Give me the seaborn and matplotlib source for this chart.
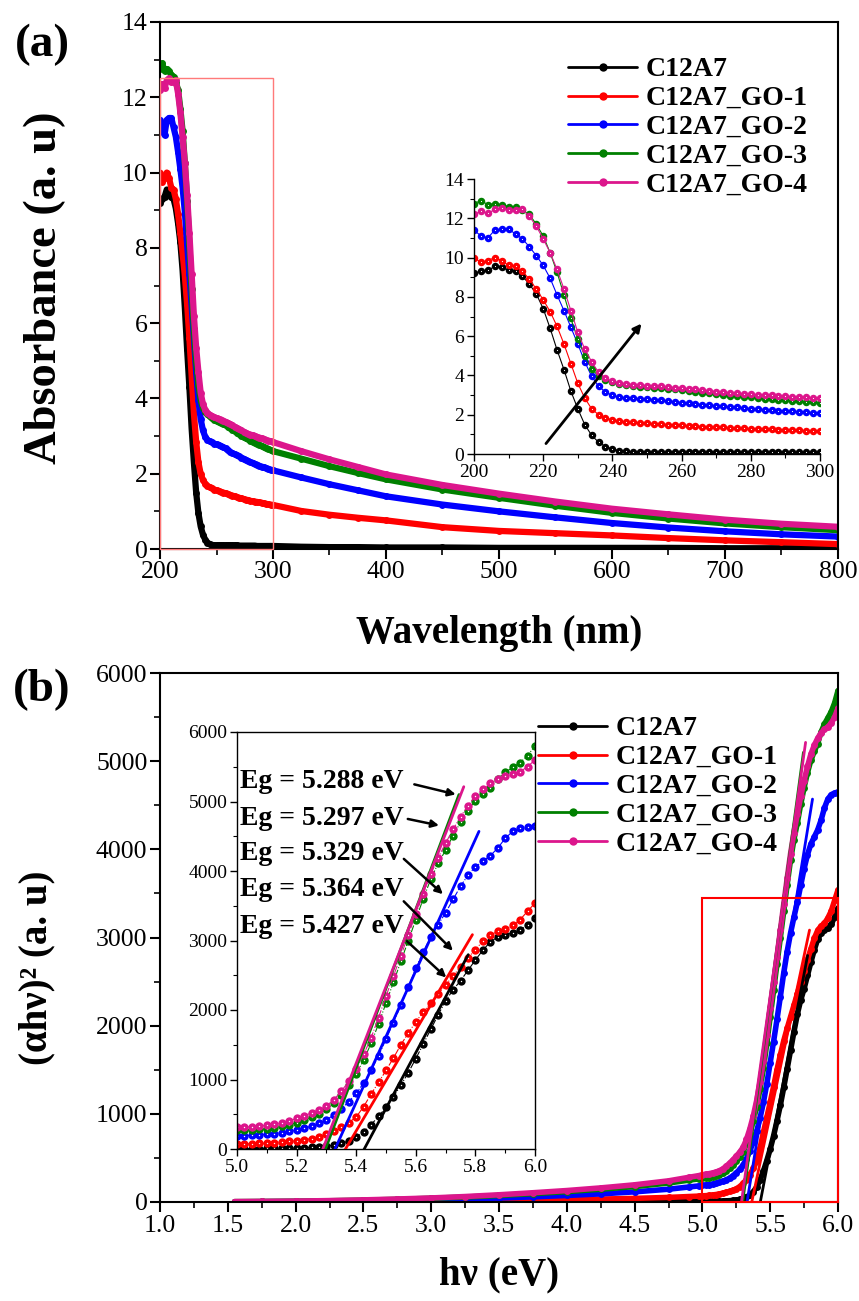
import numpy as np
import pandas as pd
import matplotlib
matplotlib.use("Agg")
import matplotlib.pyplot as plt
import seaborn as sns
from matplotlib.patches import Rectangle
from matplotlib.lines import Line2D
from matplotlib.ticker import MultipleLocator, FormatStrFormatter

# ---------------- data ----------------
samples = ["C12A7", "C12A7_GO-1", "C12A7_GO-2", "C12A7_GO-3", "C12A7_GO-4"]
colors = ["#000000", "#ff0000", "#0000ff", "#008000", "#dc168c"]

wavelength = list(range(200, 301, 2)) + [325, 350, 375, 400, 450, 500, 550, 600, 650, 700, 750, 800]

abs_c12a7 = [9.20, 9.30, 9.35, 9.55, 9.50, 9.35, 9.30, 9.05, 8.65, 8.15,
             7.40, 6.40, 5.30, 4.30, 3.20, 2.30, 1.50, 0.95, 0.60, 0.38,
             0.25, 0.17, 0.13, 0.11, 0.10, 0.10, 0.10, 0.10, 0.10, 0.10,
             0.10, 0.10, 0.10, 0.10, 0.10, 0.09, 0.09, 0.09, 0.09, 0.09,
             0.09, 0.09, 0.09, 0.08, 0.08, 0.08, 0.08, 0.08, 0.08, 0.08,
             0.08,
             0.06, 0.05, 0.05, 0.04, 0.04, 0.03, 0.03, 0.03, 0.03, 0.02, 0.02, 0.02]
abs_go1 = [10.00, 9.75, 9.85, 10.00, 9.85, 9.60, 9.55, 9.30, 8.90, 8.40,
           7.85, 7.25, 6.50, 5.60, 4.60, 3.60, 2.85, 2.30, 2.00, 1.83,
           1.74, 1.68, 1.64, 1.61, 1.58, 1.56, 1.54, 1.52, 1.50, 1.48,
           1.46, 1.44, 1.42, 1.40, 1.38, 1.36, 1.35, 1.33, 1.31, 1.30,
           1.28, 1.27, 1.26, 1.25, 1.24, 1.23, 1.21, 1.20, 1.19, 1.18,
           1.17,
           1.01, 0.91, 0.83, 0.76, 0.58, 0.48, 0.42, 0.36, 0.29, 0.23, 0.18, 0.13]
abs_go2 = [11.40, 11.10, 11.00, 11.40, 11.45, 11.45, 11.20, 10.95, 10.55, 10.10,
           9.60, 8.95, 8.10, 7.30, 6.45, 5.60, 4.70, 3.95, 3.45, 3.15,
           2.98, 2.90, 2.86, 2.83, 2.80, 2.78, 2.76, 2.73, 2.70, 2.67,
           2.62, 2.58, 2.55, 2.52, 2.49, 2.46, 2.43, 2.40, 2.37, 2.34,
           2.31, 2.29, 2.26, 2.24, 2.21, 2.19, 2.17, 2.15, 2.13, 2.11,
           2.09,
           1.90, 1.72, 1.56, 1.40, 1.18, 1.00, 0.84, 0.69, 0.57, 0.47, 0.39, 0.33]
abs_go3 = [12.75, 12.90, 12.70, 12.75, 12.70, 12.60, 12.55, 12.40, 12.20, 11.70,
           11.10, 10.25, 9.25, 8.10, 6.90, 5.85, 5.00, 4.35, 3.95, 3.75,
           3.65, 3.58, 3.52, 3.47, 3.43, 3.40, 3.38, 3.35, 3.32, 3.29,
           3.25, 3.21, 3.17, 3.13, 3.09, 3.05, 3.01, 2.97, 2.94, 2.91,
           2.88, 2.85, 2.82, 2.80, 2.77, 2.74, 2.71, 2.68, 2.66, 2.63,
           2.60,
           2.40, 2.20, 2.02, 1.85, 1.58, 1.36, 1.15, 0.96, 0.81, 0.68, 0.58, 0.50]
abs_go4 = [12.20, 12.35, 12.25, 12.45, 12.50, 12.40, 12.40, 12.45, 12.10, 11.60,
           10.95, 10.25, 9.40, 8.40, 7.30, 6.20, 5.35, 4.70, 4.15, 3.85,
           3.70, 3.62, 3.57, 3.53, 3.50, 3.48, 3.46, 3.44, 3.41, 3.38,
           3.35, 3.32, 3.29, 3.25, 3.22, 3.18, 3.15, 3.12, 3.09, 3.06,
           3.04, 3.02, 3.00, 2.98, 2.96, 2.94, 2.92, 2.90, 2.88, 2.86,
           2.84,
           2.60, 2.38, 2.18, 1.98, 1.70, 1.47, 1.26, 1.07, 0.92, 0.78, 0.67, 0.59]

energy = [1.55, 1.75, 2.0, 2.25, 2.5, 2.75, 3.0, 3.25, 3.5, 3.75, 4.0, 4.25, 4.5, 4.75, 4.9, 4.975] + \
         [round(5.0 + 0.025 * i, 3) for i in range(41)]

tauc_c12a7 = [0, 0, 0, 1, 1, 1, 1, 2, 2, 2, 3, 3, 3, 4, 4, 5] + \
    [5, 5, 6, 7, 8, 9, 11, 13, 15, 18, 22, 30, 40, 57, 80, 115, 170, 250, 350, 470,
     600, 750, 920, 1100, 1300, 1510, 1720, 1930, 2130, 2290, 2420, 2570, 2720, 2860, 2980,
     3050, 3080, 3110, 3150, 3230, 3330]
tauc_go1 = [1, 1, 2, 3, 4, 6, 8, 11, 15, 20, 26, 33, 41, 52, 62, 67] + \
    [70, 72, 75, 80, 85, 92, 100, 110, 120, 133, 150, 175, 210, 255, 310, 380, 460, 610, 790, 960,
     1130, 1310, 1500, 1670, 1830, 1970, 2100, 2230, 2360, 2490, 2620, 2750, 2870, 2990, 3080,
     3130, 3160, 3220, 3300, 3420, 3540]
tauc_go2 = [2, 3, 5, 8, 12, 17, 24, 33, 45, 58, 74, 92, 115, 145, 170, 183] + \
    [190, 193, 197, 203, 210, 222, 236, 252, 270, 298, 330, 370, 420, 490, 580, 680, 800, 950, 1130, 1340,
     1580, 1820, 2070, 2330, 2600, 2840, 3050, 3230, 3400, 3590, 3780, 3940, 4060, 4140, 4220,
     4330, 4470, 4570, 4620, 4640, 4650]
tauc_go3 = [4, 6, 9, 14, 21, 30, 42, 56, 74, 95, 118, 145, 175, 215, 248, 262] + \
    [270, 273, 277, 283, 290, 305, 325, 350, 380, 418, 460, 510, 570, 660, 780, 920, 1080, 1280, 1520, 1800,
     2100, 2400, 2700, 3000, 3300, 3600, 3880, 4110, 4300, 4510, 4700, 4870, 5010, 5110, 5200,
     5330, 5420, 5490, 5560, 5660, 5800]
tauc_go4 = [5, 7, 10, 16, 24, 34, 46, 62, 82, 105, 130, 160, 195, 240, 280, 300] + \
    [310, 315, 322, 330, 340, 355, 375, 405, 440, 478, 520, 565, 620, 710, 830, 975, 1150, 1360, 1600, 1890,
     2200, 2490, 2780, 3080, 3380, 3670, 3950, 4190, 4400, 4600, 4780, 4940, 5080, 5180, 5260,
     5320, 5360, 5390, 5430, 5500, 5600]

# linear fits (Tauc extrapolation) : x-intercept = Eg, upper end point
eg_values = [5.427, 5.364, 5.329, 5.297, 5.288]
fit_top_x = [5.776, 5.790, 5.812, 5.745, 5.761]
fit_top_y = [2796, 3084, 4570, 5100, 5213]

# Eg annotations (top to bottom)
eg_labels = ["Eg = 5.288 eV", "Eg = 5.297 eV", "Eg = 5.329 eV", "Eg = 5.364 eV", "Eg = 5.427 eV"]
eg_label_y = [5194, 4667, 4163, 3635, 3108]
eg_arrow_start = [(5.586, 5256), (5.564, 4757), (5.553, 4201), (5.553, 3592), (5.564, 3016)]
eg_arrow_end = [(5.743, 5093), (5.687, 4647), (5.698, 3640), (5.731, 2825), (5.709, 2441)]

abs_series = [abs_c12a7, abs_go1, abs_go2, abs_go3, abs_go4]
tauc_series = [tauc_c12a7, tauc_go1, tauc_go2, tauc_go3, tauc_go4]

df_abs = pd.DataFrame({
    "wl": wavelength * len(samples),
    "A": sum(abs_series, []),
    "sample": sum([[s] * len(wavelength) for s in samples], []),
})
df_tauc = pd.DataFrame({
    "E": energy * len(samples),
    "T": sum(tauc_series, []),
    "sample": sum([[s] * len(energy) for s in samples], []),
})

# ---------------- style ----------------
sns.set_theme(style="ticks")
plt.rcParams["font.family"] = ["Liberation Serif", "DejaVu Serif"]
plt.rcParams["axes.linewidth"] = 1.5
for key in ["axes.edgecolor", "xtick.color", "ytick.color", "text.color", "axes.labelcolor",
            "xtick.labelcolor", "ytick.labelcolor"]:
    plt.rcParams[key] = "black"

W, H = 859, 1301
fig = plt.figure(figsize=(W / 100, H / 100), dpi=100)


def fr(x0, y0, x1, y1):
    return [x0 / W, 1 - y1 / H, (x1 - x0) / W, (y1 - y0) / H]


ax_a = fig.add_axes(fr(160, 22, 838, 549))
ax_ai = fig.add_axes(fr(474, 179, 820, 454))
ax_b = fig.add_axes(fr(160, 673, 838, 1202))
ax_bi = fig.add_axes(fr(237, 732, 535, 1149))


def draw(ax, df, x, y, lw, ms, ls="-", highlight=False, hl_size=2.0):
    for i, (s, c) in enumerate(zip(samples, colors)):
        sub = df[df["sample"] == s]
        sns.lineplot(data=sub, x=x, y=y, color=c, linewidth=lw, linestyle=ls,
                     marker="o", markersize=ms, markeredgewidth=0, markeredgecolor=c,
                     estimator=None, sort=False, legend=False, ax=ax, zorder=2 + i * 0.1)
        if highlight:
            sns.scatterplot(data=sub, x=x, y=y, color="white", s=hl_size, linewidth=0,
                            legend=False, ax=ax, zorder=2.05 + i * 0.1)


def style_ticks(ax, size, major_len, minor_len, width):
    ax.tick_params(axis="both", which="major", direction="out", length=major_len, width=width,
                   labelsize=size, top=False, right=False, pad=2, colors="black")
    ax.tick_params(axis="both", which="minor", direction="out", length=minor_len, width=width * 0.8,
                   top=False, right=False, colors="black")
    ax.set_xlabel("")
    ax.set_ylabel("")


# ---------- panel (a) ----------
draw(ax_a, df_abs, "wl", "A", lw=4.5, ms=5)
ax_a.set_xlim(200, 800)
ax_a.set_ylim(0, 14)
ax_a.xaxis.set_major_locator(MultipleLocator(100))
ax_a.xaxis.set_minor_locator(MultipleLocator(50))
ax_a.yaxis.set_major_locator(MultipleLocator(2))
ax_a.yaxis.set_minor_locator(MultipleLocator(1))
style_ticks(ax_a, 18.5, 7, 4, 1.5)
ax_a.add_patch(Rectangle((200, 0), 100, 12.5, fill=False, edgecolor="#ff7a7a", lw=1.0, zorder=5, clip_on=False))

draw(ax_ai, df_abs, "wl", "A", lw=0.8, ms=5.4, highlight=True, hl_size=0.7)
ax_ai.set_xlim(200, 300)
ax_ai.set_ylim(0, 14)
ax_ai.set_facecolor("none")
ax_ai.xaxis.set_major_locator(MultipleLocator(20))
ax_ai.xaxis.set_minor_locator(MultipleLocator(10))
ax_ai.yaxis.set_major_locator(MultipleLocator(2))
ax_ai.yaxis.set_minor_locator(MultipleLocator(1))
for sp in ["top", "right"]:
    ax_ai.spines[sp].set_visible(False)
for sp in ["left", "bottom"]:
    ax_ai.spines[sp].set_linewidth(1.0)
style_ticks(ax_ai, 14, 5, 3, 1.0)
ax_ai.annotate("", xy=(248.9, 6.75), xytext=(220.3, 0.42),
               arrowprops=dict(arrowstyle="-|>", color="black", lw=2.0, mutation_scale=12), zorder=10)

# ---------- panel (b) ----------
draw(ax_b, df_tauc, "E", "T", lw=4, ms=5)
ax_b.set_xlim(1.0, 6.0)
ax_b.set_ylim(0, 6000)
ax_b.xaxis.set_major_locator(MultipleLocator(0.5))
ax_b.xaxis.set_minor_locator(MultipleLocator(0.25))
ax_b.xaxis.set_major_formatter(FormatStrFormatter("%.1f"))
ax_b.yaxis.set_major_locator(MultipleLocator(1000))
ax_b.yaxis.set_minor_locator(MultipleLocator(500))
style_ticks(ax_b, 18.5, 7, 4, 1.5)
ax_b.add_patch(Rectangle((5.0, 0), 1.0, 3450, fill=False, edgecolor="#ff0000", lw=1.5, zorder=5, clip_on=False))

draw(ax_bi, df_tauc, "E", "T", lw=0.8, ms=6, ls="-.", highlight=True, hl_size=1.0)
ax_bi.set_xlim(5.0, 6.0)
ax_bi.set_ylim(0, 6000)
ax_bi.xaxis.set_major_locator(MultipleLocator(0.2))
ax_bi.xaxis.set_minor_locator(MultipleLocator(0.1))
ax_bi.xaxis.set_major_formatter(FormatStrFormatter("%.1f"))
ax_bi.yaxis.set_major_locator(MultipleLocator(1000))
ax_bi.yaxis.set_minor_locator(MultipleLocator(500))
for sp in ax_bi.spines.values():
    sp.set_linewidth(1.0)
style_ticks(ax_bi, 14, 5, 3, 1.0)

for ax, lw in [(ax_b, 2.0), (ax_bi, 2.0)]:
    for i, c in enumerate(colors):
        slope = fit_top_y[i] / (fit_top_x[i] - eg_values[i])
        x0 = eg_values[i] - 120 / slope
        sns.lineplot(x=[x0, fit_top_x[i]], y=[-120, fit_top_y[i]], color=c, linewidth=lw,
                     ax=ax, legend=False, zorder=4 + i * 0.1)
    ax.set_xlabel("")
    ax.set_ylabel("")

for lab, ly, st, en in zip(eg_labels, eg_label_y, eg_arrow_start, eg_arrow_end):
    ax_bi.text(5.01, ly, lab, fontsize=20, fontweight="bold", ha="left", va="baseline", zorder=8)
    ax_bi.annotate("", xy=en, xytext=st,
                   arrowprops=dict(arrowstyle="-|>", color="black", lw=1.8, mutation_scale=11), zorder=9)

# ---------- legends ----------
handles = [Line2D([], [], color=c, lw=2, marker="o", ms=6, markeredgewidth=0) for c in colors]
leg_kw = dict(frameon=False, prop={"size": 20, "weight": "bold"}, handlelength=2.5,
              handletextpad=0.3, labelspacing=0.12, borderpad=0, borderaxespad=0, loc="upper left")
fig.legend(handles, samples, bbox_to_anchor=(568 / W, 1 - 57 / H), **leg_kw)
fig.legend(handles, samples, bbox_to_anchor=(538 / W, 1 - 716 / H), **leg_kw)

# ---------- labels ----------
fig.text(42 / W, 1 - 45 / H, "(a)", fontsize=34, fontweight="bold", ha="center", va="center")
fig.text(42 / W, 1 - 690 / H, "(b)", fontsize=34, fontweight="bold", ha="center", va="center")
fig.text(499 / W, 1 - 633 / H, "Wavelength (nm)", fontsize=28, fontweight="bold", ha="center", va="center")
fig.text(499 / W, 1 - 1275 / H, "hν (eV)", fontsize=28, fontweight="bold", ha="center", va="center")
fig.text(45 / W, 1 - 288 / H, "Absorbance (a. u)", fontsize=33.5, fontweight="bold", ha="center", va="center",
         rotation=90)
fig.text(37 / W, 1 - 968 / H, "(αhν)² (a. u)", fontsize=28, fontweight="bold", ha="center", va="center",
         rotation=90)

fig.savefig("out.png", dpi=100, facecolor="white")
